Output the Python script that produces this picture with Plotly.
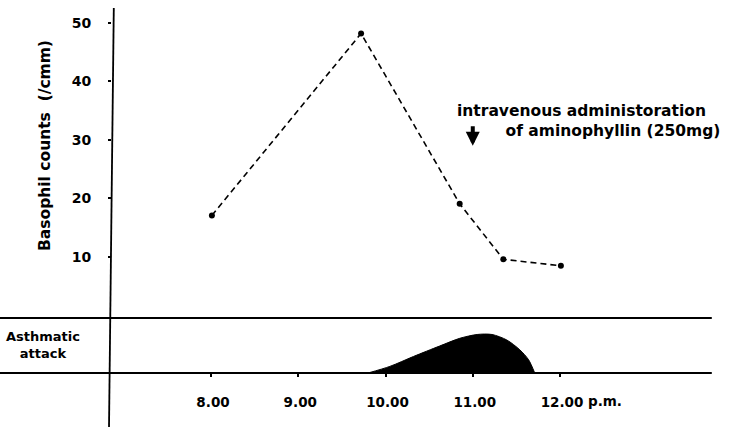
import plotly.graph_objects as go

# Basophil counts (hours of day, counts per cmm)
count_hours = [8.01, 9.72, 10.85, 11.35, 12.01]
count_values = [17.1, 48.2, 19.1, 9.6, 8.5]

# Asthmatic attack intensity profile (relative, 0 = none, 1 = band top)
attack_hours = [9.80, 10.05, 10.32, 10.62, 10.85, 11.05, 11.22, 11.39, 11.54, 11.64, 11.71]
attack_level = [0.0, 0.12, 0.30, 0.49, 0.63, 0.70, 0.70, 0.60, 0.42, 0.24, 0.0]

x_tickvals = [8, 9, 10, 11, 12]
x_ticktext = ["8.00", "9.00", "10.00", "11.00", "12.00"]
y_tickvals = [10, 20, 30, 40, 50]
y_ticktext = ["10", "20", "30", "40", "50"]

injection_hour = 11.0
injection_count = 29.0

def F(size):
    return dict(family="DejaVu Sans", size=size, color="black", weight="bold")

W, H = 732, 427
L, R, T, B = 112, 22, 8, 0
pw, ph = W - L - R, H - T - B

def px2paper(px, py):
    return (px - L) / pw, 1 - (py - T) / ph

fig = go.Figure()

fig.add_trace(go.Scatter(
    x=attack_hours, y=attack_level, yaxis="y2",
    mode="lines", line=dict(color="black", width=1, shape="spline", smoothing=0.8),
    fill="toself", fillcolor="black", hoverinfo="skip", showlegend=False,
))

fig.add_trace(go.Scatter(
    x=count_hours, y=count_values,
    mode="lines+markers",
    line=dict(color="black", width=1.6, dash="6px,4px"),
    marker=dict(color="black", size=6),
    showlegend=False,
))

shapes = [
    dict(type="line", xref="paper", yref="y2", x0=-0.19, x1=1.003, y0=1, y1=1,
         line=dict(color="black", width=1.8)),
    dict(type="line", xref="paper", yref="y2", x0=-0.19, x1=1.003, y0=0, y1=0,
         line=dict(color="black", width=1.8)),
    dict(type="line", xref="paper", yref="paper", x0=0.003, x1=-0.005, y0=1, y1=0,
         line=dict(color="black", width=1.8)),
]

x1, y1 = px2paper(455, 121)
xt, yt = px2paper(45, 146)
xa, ya = px2paper(43, 345)
indent = "&nbsp;" * 9

annotations = [
    dict(x=injection_hour, y=injection_count, xref="x", yref="y", text="",
         showarrow=True, arrowhead=2, arrowsize=0.7, arrowwidth=4, arrowcolor="black",
         ax=0, ay=-21),
    dict(x=x1, y=y1, xref="paper", yref="paper",
         text="intravenous administoration<br>" + indent + "of aminophyllin (250mg)",
         showarrow=False, xanchor="left", yanchor="middle", align="left", font=F(15.5)),
    dict(x=xt, y=yt, xref="paper", yref="paper", text="Basophil counts  (/cmm)",
         showarrow=False, xanchor="center", yanchor="middle", font=F(15.5), textangle=-90),
    dict(x=xa, y=ya, xref="paper", yref="paper", text="Asthmatic<br>attack",
         showarrow=False, xanchor="center", yanchor="middle", font=F(13), align="center"),
    dict(xref="x", yref="paper", x=12, y=px2paper(0, 401)[1], text="p.m.", showarrow=False,
         xanchor="left", yanchor="middle", xshift=26, font=F(13.5)),
]

fig.update_layout(
    width=W, height=H,
    margin=dict(l=L, r=R, t=T, b=B),
    paper_bgcolor="white", plot_bgcolor="white",
    font=F(13),
    xaxis=dict(range=[6.865, 13.719], tickvals=x_tickvals, ticktext=x_ticktext,
               anchor="free", position=(H - 373 - B) / ph, showgrid=False, zeroline=False,
               showline=False, ticks="outside", ticklen=3, tickcolor="black", tickwidth=1.5,
               ticklabelstandoff=14, ticklabelshift=2, tickfont=F(13.5)),
    yaxis=dict(range=[-19.06, 52.56], tickvals=y_tickvals, ticktext=y_ticktext,
               showgrid=False, zeroline=False, showline=False, ticks="outside",
               ticklen=3, tickcolor="black", tickwidth=1.5, ticklabelstandoff=14,
               tickfont=F(14)),
    yaxis2=dict(range=[-0.982, 6.636], overlaying="y", visible=False, showgrid=False,
                zeroline=False),
    shapes=shapes,
    annotations=annotations,
)

fig.write_html("out.html", config={"displayModeBar": False},
               post_script="document.body.style.margin='0px';")
